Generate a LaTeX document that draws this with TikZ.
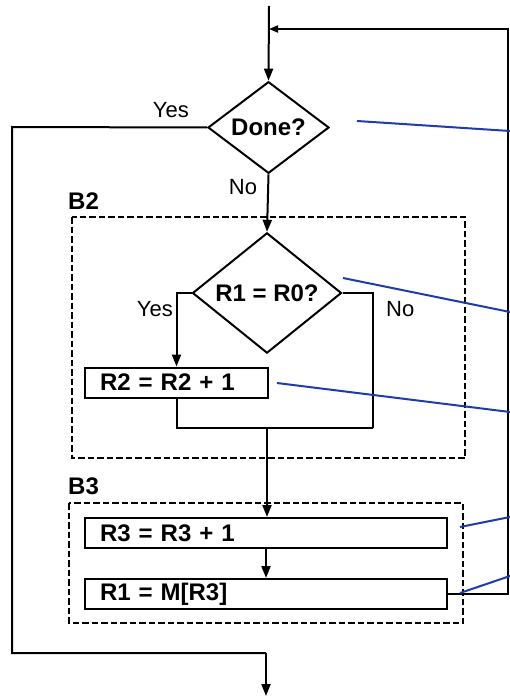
\documentclass[tikz,border=0pt]{standalone}
\usepackage{fontspec}
\setmainfont{Liberation Sans}
\usetikzlibrary{shapes.geometric, arrows.meta, positioning, calc}
\definecolor{noteblue}{RGB}{30,60,170}
\tikzset{
  decision/.style={
    diamond, draw, line width=2pt, inner sep=0pt,
    font=\fontsize{24}{28}\selectfont\bfseries
  },
  opbox/.style={
    rectangle, draw, line width=2pt,
    minimum height=30pt, inner xsep=15pt, inner ysep=0pt,
    text width=#1, align=left,
    font=\fontsize{24}{28}\selectfont\bfseries
  },
  region/.style={draw, line width=1.8pt, dash pattern=on 6.5pt off 3pt},
  blocklabel/.style={anchor=base west, inner sep=0pt, font=\fontsize{24}{28}\selectfont\bfseries},
  answer/.style={inner sep=0pt, font=\fontsize{22}{26}\selectfont},
  flow/.style={line width=2pt},
  arrow/.style={flow, -{Triangle[length=12pt, width=9pt]}},
  backarrow/.style={flow, -{Triangle[length=9pt, width=7pt]}},
  note/.style={line width=2pt, color=noteblue},
}

\begin{document}
\begin{tikzpicture}[x=1pt, y=-1pt]
  \useasboundingbox (0,0) rectangle (510,698);

  \node[decision, minimum width=121pt, minimum height=91pt] (done) at (268.5,127.5) {Done?};
  \node[decision, minimum width=149pt, minimum height=90pt] (cmp) at (267,293) {R1 = R0?};
  \node[opbox=153pt] (incr2) at (176.5,382.5) {R2 = R2 + 1};
  \node[opbox=332pt] (incr3) at (266,533) {R3 = R3 + 1};
  \node[opbox=332pt] (load) at (266,594) {R1 = M[R3]};

  \draw[region] (72,217) rectangle (465,458);
  \draw[region] (69,503) rectangle (463,623);
  \node[blocklabel] (b2) at (68,209) {B2};
  \node[blocklabel] (b3) at (68,494) {B3};

  \coordinate (start) at (269,6);
  \coordinate (back) at (269,29);
  \coordinate (rside) at (508,594);
  \coordinate (exitl) at (12,127);
  \coordinate (exitb) at (12,653);
  \coordinate (exit) at (266,653);
  \coordinate (stop) at (266,696);
  \coordinate (nobr) at (373,293);
  \coordinate (merge) at (373,428);
  \coordinate (join) at (267,428);

  \draw[arrow] (start) -- (done.north);
  \draw[backarrow] (load.east) -- (rside) -- (rside |- back) -- (back);
  \draw[flow] (done.west) -- (exitl) -- (exitb) -- (exit);
  \draw[arrow] (exit) -- (stop);
  \draw[arrow] (done.south) -- (cmp.north);
  \draw[arrow] (cmp.west) -| (incr2.north);
  \draw[flow] (cmp.east) -- (nobr) -- (merge);
  \draw[flow] (incr2.south) |- (merge);
  \draw[arrow] (join) -- (join |- incr3.north);
  \draw[arrow] (incr3.south) -- (load.north);

  \node[answer, anchor=east] (yes1) at (189,110) {Yes};
  \node[answer] (no1) at (243,187) {No};
  \node[answer, anchor=east] (yes2) at (173,309) {Yes};
  \node[answer, anchor=west] (no2) at (386,309) {No};

  \coordinate (n1) at (357,121);
  \coordinate (n2) at (343,278);
  \coordinate (n3) at (277,383);
  \coordinate (n4) at (460,527);
  \coordinate (n5) at (460,593);
  \draw[note] (n1) -- (510,131);
  \draw[note] (n2) -- (510,312);
  \draw[note] (n3) -- (510,412);
  \draw[note] (n4) -- (510,517);
  \draw[note] (n5) -- (510,576);
\end{tikzpicture}
\end{document}
